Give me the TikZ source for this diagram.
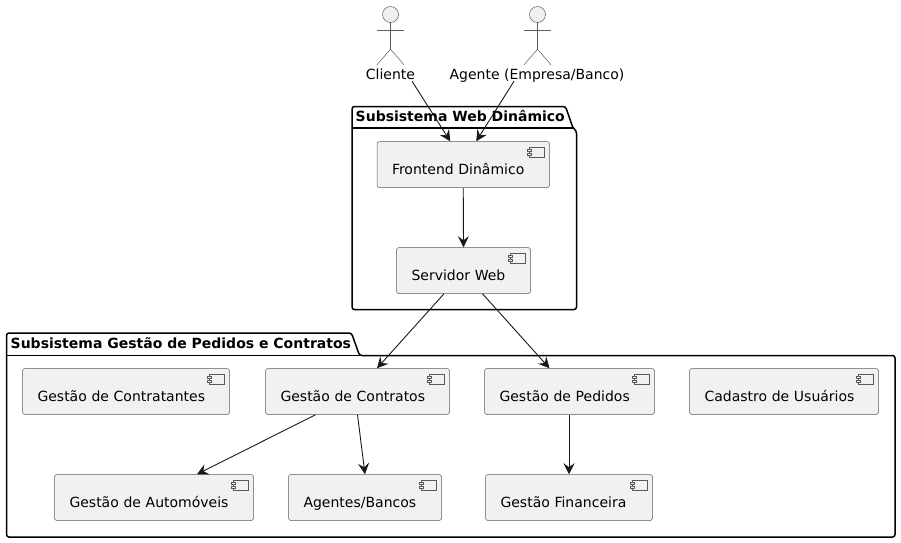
\documentclass[tikz,border=0pt]{standalone}
\usepackage{fontspec}
\setmainfont{DejaVu Sans}
\usetikzlibrary{arrows.meta}

\definecolor{stroke}{HTML}{181818}
\definecolor{thinstroke}{HTML}{5A5A5A}
\definecolor{boxfill}{HTML}{F1F1F1}

\tikzset{
    txt/.style={inner sep=0pt, text height=10.5pt, text depth=1.5pt, font=\fontsize{14}{16}\selectfont},
    comp/.style={draw=thinstroke, line width=.5pt, fill=boxfill, rounded corners=2.5pt,
        text width=#1-30pt, align=left, inner xsep=15pt, inner ysep=0pt,
        text height=32.5pt, text depth=13.5pt, font=\fontsize{14}{16}\selectfont},
    compicon/.style={draw=thinstroke, line width=.5pt, fill=boxfill},
    actorline/.style={draw=thinstroke, line width=.5pt},
    pack/.style={draw=black, line width=1.5pt, rounded corners=2.5pt, line join=round},
    packtitle/.style={inner sep=0pt, anchor=base west, font=\fontsize{14}{16}\selectfont\bfseries},
    arr/.style={draw=stroke, line width=.9pt, -{Stealth[length=11pt, width=11pt, inset=4pt]}}
}

\begin{document}
\begin{tikzpicture}[x=1pt, y=-1pt]
    \useasboundingbox (0,0) rectangle (901,542);

    % packages
    \path[pack] (352,128)--(352,106.5)--(565.5,106.5)--(573,128)--(576.5,131)--(576.5,309.5)--(352,309.5)--cycle;
    \path[draw=black, line width=1.5pt] (352,128)--(573,128);
    \node[packtitle] (webtitle) at (355.5,121) {Subsistema Web Dinâmico};

    \path[pack] (6.5,355.5)--(6.5,333)--(351.5,333)--(359.5,355.5)--(895,355.5)--(895,537)--(6.5,537)--cycle;
    \path[draw=black, line width=1.5pt] (6.5,355.5)--(359.5,355.5);
    \node[packtitle] (gestaotitle) at (10.5,348) {Subsistema Gestão de Pedidos e Contratos};

    % actors
    \foreach \n/\x in {cliente/390.5, agente/537.5}
    {
        \node[circle, draw=thinstroke, line width=.5pt, fill=boxfill, minimum size=16pt, inner sep=0pt] (\n) at (\x,14.5) {};
        \draw[actorline] (\n.south)--++(0,26.5) coordinate (\n hip);
        \draw[actorline] ([shift={(-13.5,0)}]\n.south |- 0,30)--++(27,0);
        \draw[actorline] ([shift={(-13.5,15.5)}]\n hip)--(\n hip)--([shift={(13.5,15.5)}]\n hip);
    }
    \node[txt] (clientelabel) at (390.5,75) {Cliente};
    \node[txt] (agentelabel) at (537,75) {Agente (Empresa/Banco)};

    % components
    \node[comp=172.5pt] (frontend) at (463.25,164.5) {Frontend Dinâmico};
    \node[comp=134pt] (servidor) at (463.5,270.5) {Servidor Web};
    \node[comp=207pt] (contratantes) at (126,391.5) {Gestão de Contratantes};
    \node[comp=184pt] (contratos) at (357.5,391.5) {Gestão de Contratos};
    \node[comp=170pt] (pedidos) at (569.5,391.5) {Gestão de Pedidos};
    \node[comp=189pt] (cadastro) at (784,391.5) {Cadastro de Usuários};
    \node[comp=199pt] (automoveis) at (154,497.5) {Gestão de Automóveis};
    \node[comp=153pt] (agentes) at (365,497.5) {Agentes/Bancos};
    \node[comp=167pt] (financeira) at (569,497.5) {Gestão Financeira};

    \foreach \n in {frontend,servidor,contratantes,contratos,pedidos,cadastro,automoveis,agentes,financeira}
    {
        \draw[compicon] ([shift={(-21,5.5)}]\n.north east) rectangle ++(15.5,10);
        \draw[compicon] ([shift={(-22.5,7.5)}]\n.north east) rectangle ++(4,2);
        \draw[compicon] ([shift={(-22.5,11.5)}]\n.north east) rectangle ++(4,2);
    }

    % connectors
    \draw[arr] ([xshift=21.5pt]clientelabel.south)--([xshift=-13pt]frontend.north);
    \draw[arr] ([xshift=-23pt]agentelabel.south)--([xshift=13pt]frontend.north);
    \draw[arr] (frontend.south)--(servidor.north);
    \draw[arr] ([xshift=-19.5pt]servidor.south)--([xshift=19.5pt]contratos.north);
    \draw[arr] ([xshift=19pt]servidor.south)--([xshift=-20pt]pedidos.north);
    \draw[arr] ([xshift=-42pt]contratos.south)--([xshift=43pt]automoveis.north);
    \draw[arr] (contratos.south)--(agentes.north);
    \draw[arr] ([xshift=-.5pt]pedidos.south)--(financeira.north);
\end{tikzpicture}
\end{document}
